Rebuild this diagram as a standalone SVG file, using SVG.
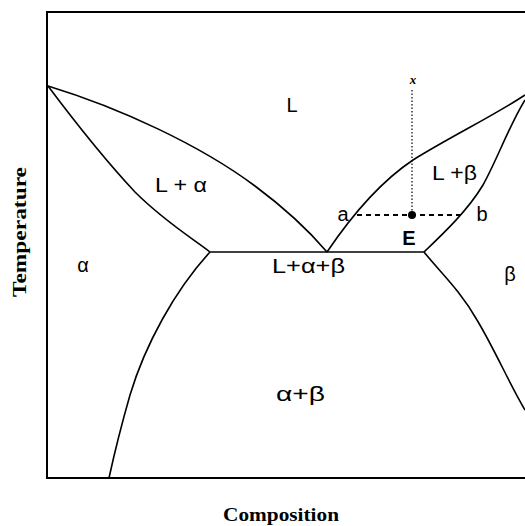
<svg xmlns="http://www.w3.org/2000/svg" width="525" height="526" viewBox="0 0 525 526">
<style>
.ax{stroke:#000;stroke-width:2;fill:none}
.cv{stroke:#000;stroke-width:1.6;fill:none;stroke-linejoin:round}
.lb{font-family:"Liberation Sans",Arial,sans-serif;font-size:20px;fill:#000}
.tt{font-family:"Liberation Serif","Times New Roman",serif;font-size:18px;font-weight:bold;fill:#000}
</style>
<rect width="525" height="526" fill="#fff"/>
<g id="axes">
<path class="ax" d="M525,12 H47 V478 H525"/>
</g>
<g id="connectors">
<path id="liquidus-left" class="cv" d="M48,86 C120,108 200,145 255,186 C290,212 310,232 327,252"/>
<path id="solidus-left" class="cv" d="M48,86 C75,122 105,160 135,192 C165,222 195,240 210,252"/>
<path id="eutectic" class="cv" d="M210,252 H424"/>
<path id="liquidus-right" class="cv" d="M327,252 C350,218 380,182 413,160 C450,137 495,115 525,95"/>
<path id="solidus-right" class="cv" d="M424,252 C445,232 468,210 483,185 C497,160 508,128 525,100"/>
<path id="solvus-left" class="cv" d="M210,252 C175,290 145,345 130,395 C120,430 114,455 109,478"/>
<path id="solvus-right" class="cv" d="M424,252 C440,272 460,290 477,320 C495,350 510,385 525,410"/>
<path id="isopleth" d="M412,90 V215" stroke="#000" stroke-width="1.2" stroke-dasharray="1.5,2" fill="none"/>
<path id="tieline" d="M357,215 H462" stroke="#000" stroke-width="2" stroke-dasharray="5,4" fill="none"/>
<circle cx="412" cy="215" r="4" fill="#000"/>
</g>
<g id="labels">
<text x="413" y="84" font-size="13" font-style="italic" font-weight="bold" text-anchor="middle" font-family="Liberation Serif,serif">x</text>
<text class="lb" x="292" y="112" text-anchor="middle">L</text>
<text class="lb" x="155" y="192" textLength="52" lengthAdjust="spacingAndGlyphs">L + α</text>
<text class="lb" x="432" y="180" textLength="45" lengthAdjust="spacingAndGlyphs">L +β</text>
<text class="lb" x="343" y="221" font-size="18" text-anchor="middle">a</text>
<text class="lb" x="482" y="221" font-size="18" text-anchor="middle">b</text>
<text class="lb" x="409" y="245" text-anchor="middle" font-weight="bold">E</text>
<text class="lb" x="272" y="273" textLength="73" lengthAdjust="spacingAndGlyphs">L+α+β</text>
<text class="lb" x="83" y="272" text-anchor="middle">α</text>
<text class="lb" x="510" y="281" text-anchor="middle">β</text>
<text class="lb" x="276" y="401" textLength="49" lengthAdjust="spacingAndGlyphs">α+β</text>
<text class="tt" x="223" y="521" textLength="116" lengthAdjust="spacingAndGlyphs">Composition</text>
<text class="tt" x="0" y="0" textLength="130" lengthAdjust="spacingAndGlyphs" transform="translate(26,297) rotate(-90)">Temperature</text>
</g>
</svg>
